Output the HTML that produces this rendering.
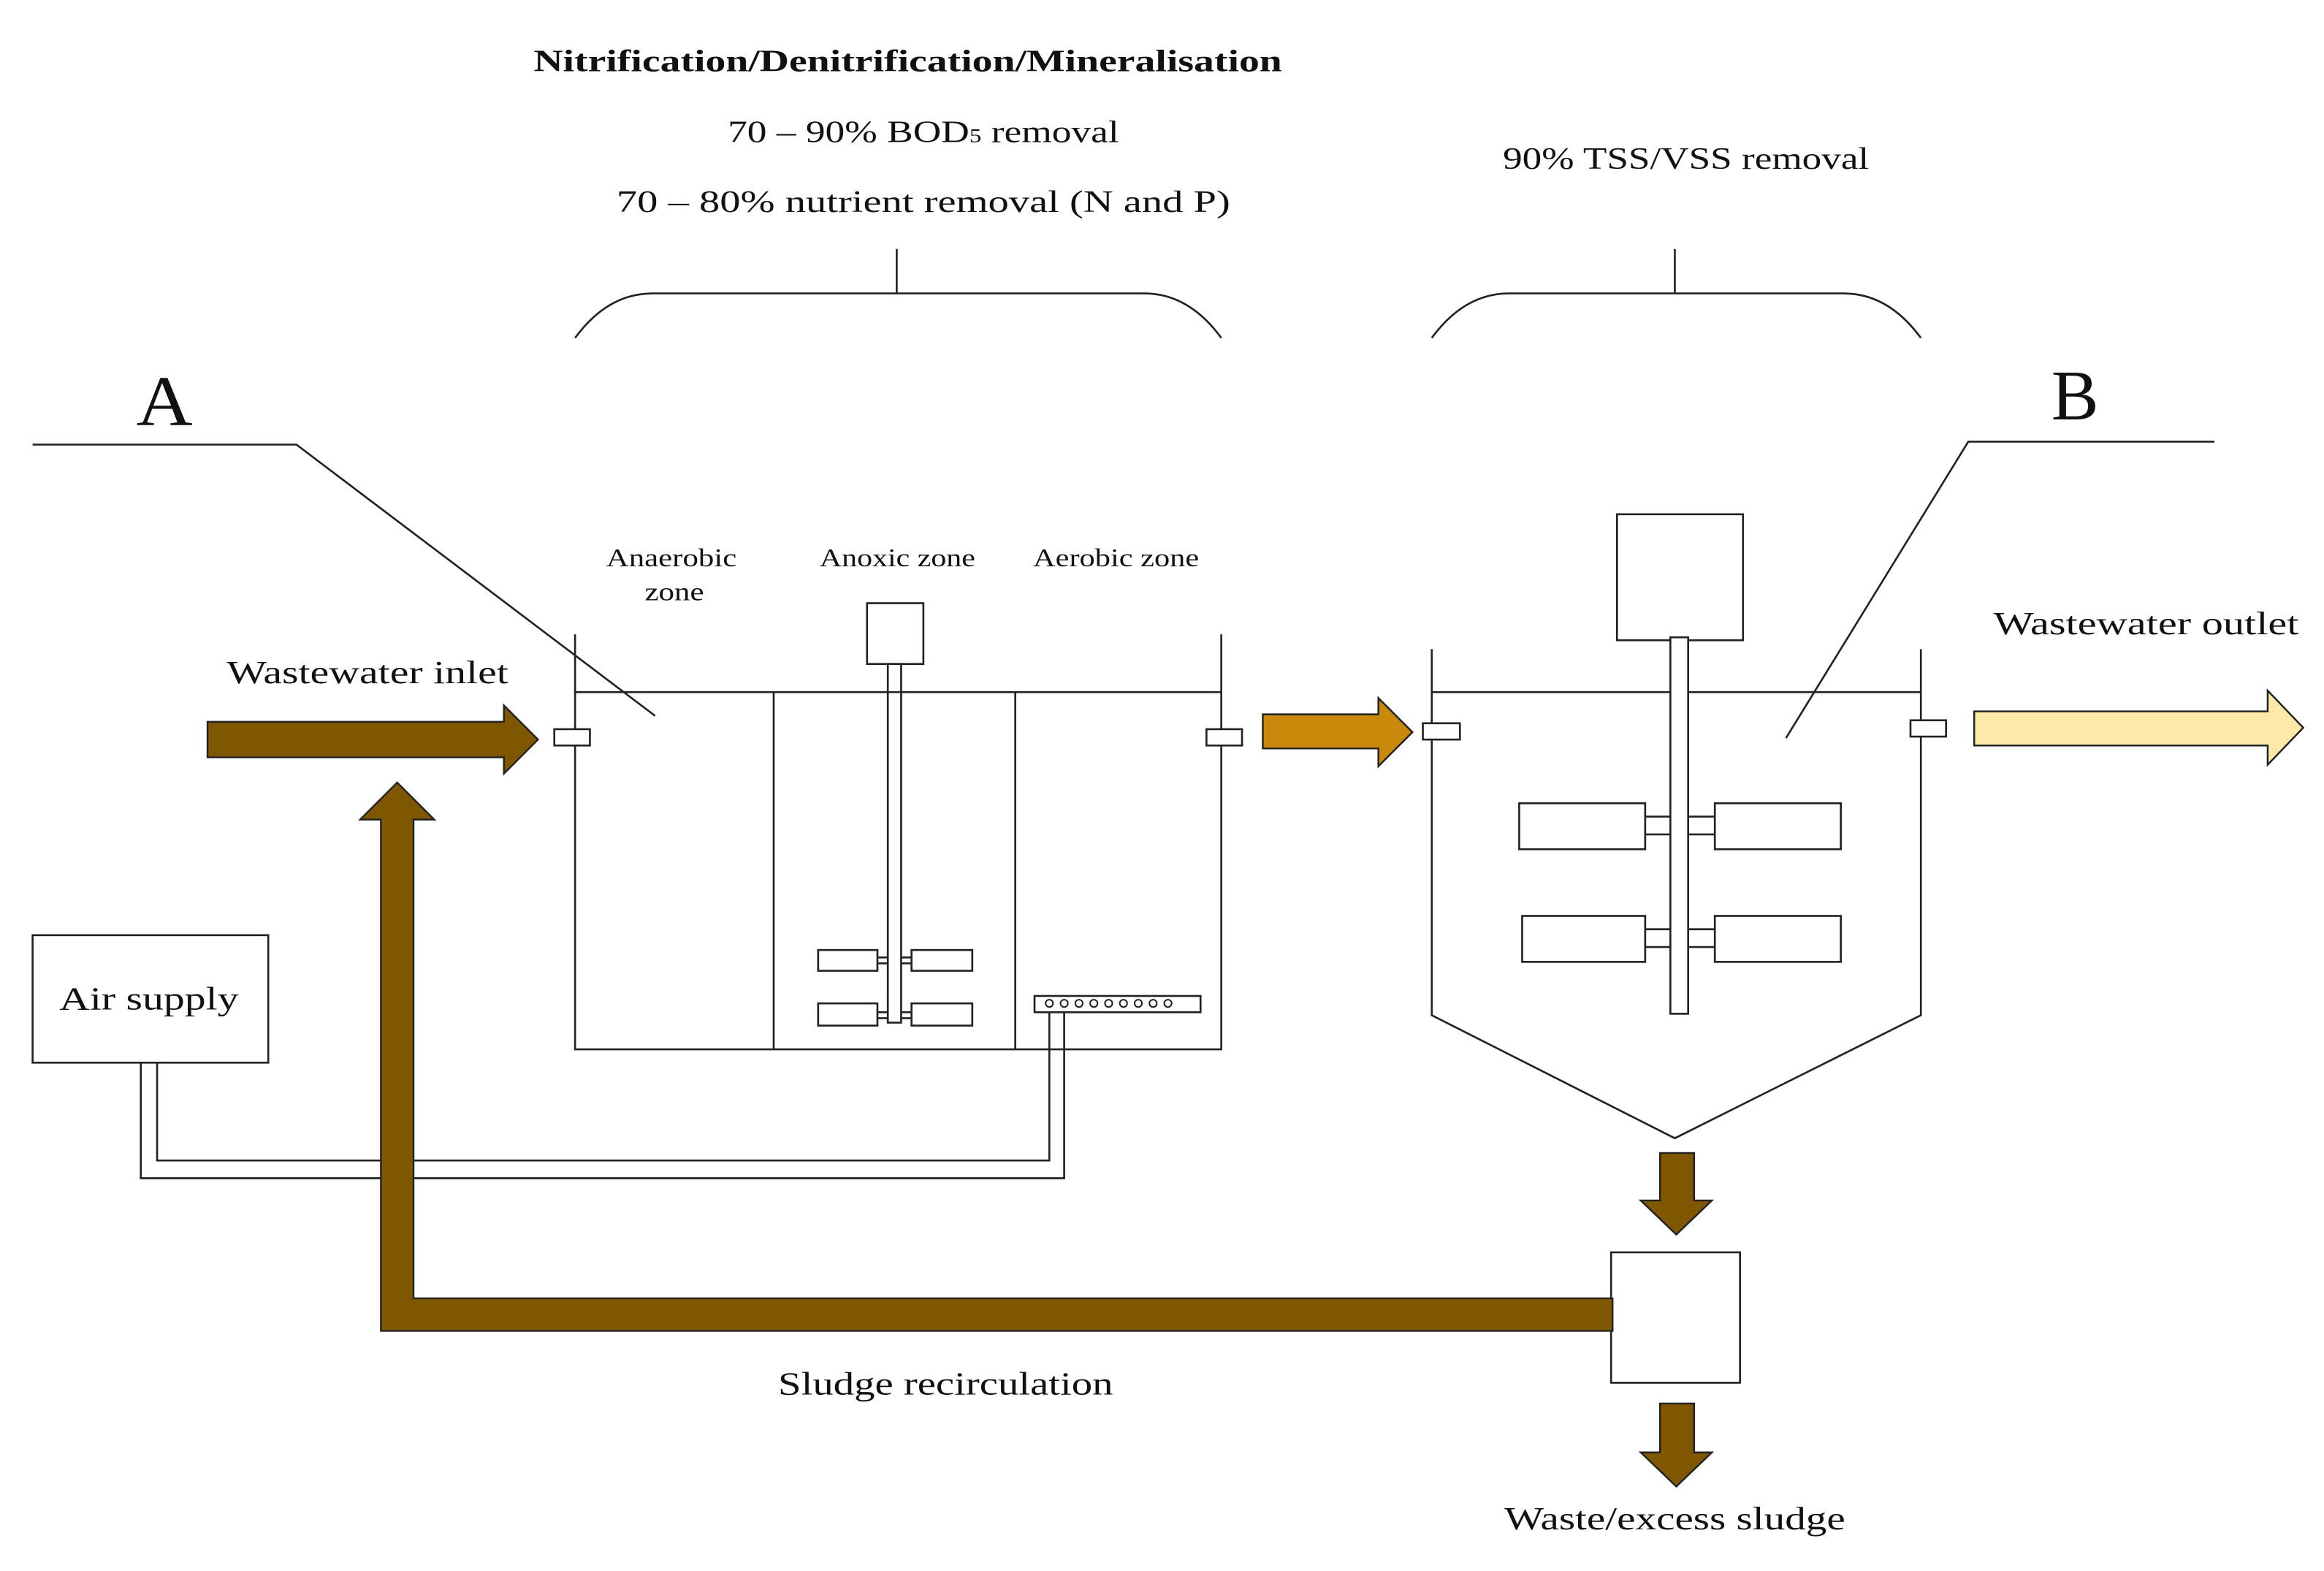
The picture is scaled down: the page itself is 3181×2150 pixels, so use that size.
<!DOCTYPE html>
<html><head><meta charset="utf-8"><style>
html,body{margin:0;padding:0;background:#fff;}
svg{display:block;}
text{font-family:"Liberation Serif",serif;fill:#111;}
</style></head><body>
<svg width="3181" height="2150" viewBox="0 0 1568 1060" preserveAspectRatio="none" xmlns="http://www.w3.org/2000/svg">
<g fill="none" stroke="#222" stroke-width="1.3">
<path d="M605 168V198M388 228Q410 198 440 198H772Q802 198 824 228"/>
<path d="M1130 168V198M966 228Q988 198 1018 198H1244Q1274 198 1296 228"/>
<path d="M22 300H200L442 483"/>
<path d="M1494 298H1328L1205 498"/>
<path d="M388 428V708H824V428M388 467H824M522 467V708M685 467V708"/>
<rect x="585" y="407" width="38" height="41"/>
<rect x="599" y="448" width="9" height="242"/>
<rect x="552" y="641" width="40" height="14"/><rect x="615" y="641" width="41" height="14"/>
<rect x="552" y="677" width="40" height="15"/><rect x="615" y="677" width="41" height="15"/>
<path d="M592 646H599M592 650H599M608 646H615M608 650H615M592 683H599M592 687H599M608 683H615M608 687H615"/>
<rect x="374" y="492" width="24" height="11" fill="#fff"/>
<rect x="814" y="492" width="24" height="11" fill="#fff"/>
<rect x="698" y="672" width="112" height="11"/>
<g stroke-width="1">
<circle cx="708" cy="677" r="2.5"/><circle cx="718" cy="677" r="2.5"/><circle cx="728" cy="677" r="2.5"/><circle cx="738" cy="677" r="2.5"/><circle cx="748" cy="677" r="2.5"/><circle cx="758" cy="677" r="2.5"/><circle cx="768" cy="677" r="2.5"/><circle cx="778" cy="677" r="2.5"/><circle cx="788" cy="677" r="2.5"/>
</g>
<rect x="22" y="631" width="159" height="86"/>
<path d="M95 717V795H718V683M106 717V783H708V683"/>
<path d="M966 438V685L1130 768L1296 685V438M966 467H1296"/>
<rect x="1091" y="347" width="85" height="85" fill="#fff"/>
<rect x="1127" y="430" width="12" height="254" fill="#fff"/>
<rect x="1025" y="542" width="85" height="31"/><rect x="1157" y="542" width="85" height="31"/>
<rect x="1027" y="618" width="83" height="31"/><rect x="1157" y="618" width="85" height="31"/>
<path d="M1110 551H1127M1110 563H1127M1139 551H1157M1139 563H1157M1110 627H1127M1110 639H1127M1139 627H1157M1139 639H1157"/>
<rect x="960" y="488" width="25" height="11" fill="#fff"/>
<rect x="1289" y="486" width="24" height="11" fill="#fff"/>
<rect x="1087" y="845" width="87" height="88"/>
</g>
<g stroke="#222" stroke-width="1.2">
<path fill="#7f5700" d="M257 898V553H243L268 528L293 553H279V876H1088V898Z"/>
<path fill="#7f5700" d="M140 487H340V476L363 499L340 522V511H140Z"/>
<path fill="#c98a0c" d="M852 482H930V471L953 494L930 517V505H852Z"/>
<path fill="#fde9a9" d="M1332 480H1530V466L1554 491L1530 516V503H1332Z"/>
<path fill="#7f5700" d="M1120 778H1143V810H1155L1131 833L1107 810H1120Z"/>
<path fill="#7f5700" d="M1120 947H1143V980H1155L1131 1003L1107 980H1120Z"/>
</g>
<g lengthAdjust="spacingAndGlyphs">
<text x="360" y="48" font-size="21" font-weight="bold" textLength="505" lengthAdjust="spacingAndGlyphs">Nitrification/Denitrification/Mineralisation</text>
<text x="491" y="96" font-size="21" textLength="264" lengthAdjust="spacingAndGlyphs">70 – 90% BOD<tspan font-size="13">5</tspan> removal</text>
<text x="416" y="143" font-size="21" textLength="414" lengthAdjust="spacingAndGlyphs">70 – 80% nutrient  removal (N and P)</text>
<text x="1014" y="114" font-size="21" textLength="247" lengthAdjust="spacingAndGlyphs">90% TSS/VSS removal</text>
<text x="92" y="287" font-size="48" textLength="38" lengthAdjust="spacingAndGlyphs">A</text>
<text x="1384" y="283" font-size="48" textLength="32" lengthAdjust="spacingAndGlyphs">B</text>
<text x="409" y="382" font-size="17" textLength="88" lengthAdjust="spacingAndGlyphs">Anaerobic</text>
<text x="435" y="405" font-size="17" textLength="40" lengthAdjust="spacingAndGlyphs">zone</text>
<text x="553" y="382" font-size="17" textLength="105" lengthAdjust="spacingAndGlyphs">Anoxic zone</text>
<text x="697" y="382" font-size="17" textLength="112" lengthAdjust="spacingAndGlyphs">Aerobic zone</text>
<text x="153" y="461" font-size="22" textLength="190" lengthAdjust="spacingAndGlyphs">Wastewater inlet</text>
<text x="1345" y="428" font-size="22" textLength="206" lengthAdjust="spacingAndGlyphs">Wastewater outlet</text>
<text x="40" y="681" font-size="22" textLength="121" lengthAdjust="spacingAndGlyphs">Air supply</text>
<text x="525" y="941" font-size="22" textLength="226" lengthAdjust="spacingAndGlyphs">Sludge recirculation</text>
<text x="1015" y="1032" font-size="22" textLength="230" lengthAdjust="spacingAndGlyphs">Waste/excess sludge</text>
</g>
</svg>
</body></html>
